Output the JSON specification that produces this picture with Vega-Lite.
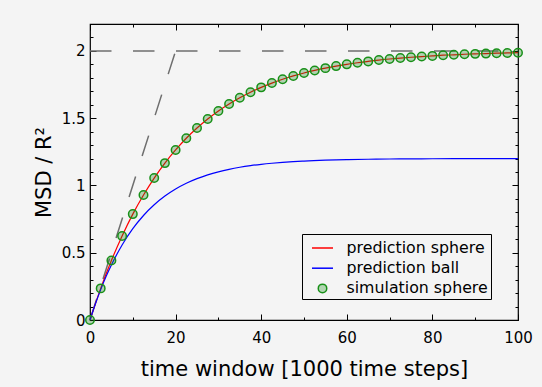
{
  "$schema": "https://vega.github.io/schema/vega-lite/v6.json",
  "width": 428,
  "height": 296,
  "autosize": {"type": "none"},
  "padding": {"left": 90, "top": 24, "right": 24, "bottom": 67},
  "background": "#f4f4f4",
  "config": {
    "font": "DejaVu Sans",
    "view": {"stroke": "black", "strokeWidth": 1.2, "fill": "#f4f4f4"},
    "axis": {
      "grid": false,
      "domain": false,
      "tickColor": "black",
      "tickWidth": 1,
      "labelColor": "black",
      "titleColor": "black",
      "labelFont": "DejaVu Sans",
      "titleFont": "DejaVu Sans",
      "labelFontSize": 15,
      "titleFontSize": 21,
      "titleFontWeight": "normal",
      "labelOverlap": false,
      "labelFlush": false
    }
  },
  "datasets": {
    "guide": [
      {"seg": "slope", "t": 0, "msd": 0},
      {"seg": "slope", "t": 20, "msd": 2},
      {"seg": "plateau", "t": 0, "msd": 2},
      {"seg": "plateau", "t": 100, "msd": 2}
    ],
    "curves": [
      {"series": "prediction sphere", "t": 0, "msd": 0},
      {"series": "prediction sphere", "t": 2.5, "msd": 0.235},
      {"series": "prediction sphere", "t": 5, "msd": 0.442},
      {"series": "prediction sphere", "t": 7.5, "msd": 0.625},
      {"series": "prediction sphere", "t": 10, "msd": 0.787},
      {"series": "prediction sphere", "t": 12.5, "msd": 0.929},
      {"series": "prediction sphere", "t": 15, "msd": 1.055},
      {"series": "prediction sphere", "t": 17.5, "msd": 1.166},
      {"series": "prediction sphere", "t": 20, "msd": 1.264},
      {"series": "prediction sphere", "t": 22.5, "msd": 1.351},
      {"series": "prediction sphere", "t": 25, "msd": 1.427},
      {"series": "prediction sphere", "t": 27.5, "msd": 1.494},
      {"series": "prediction sphere", "t": 30, "msd": 1.554},
      {"series": "prediction sphere", "t": 32.5, "msd": 1.606},
      {"series": "prediction sphere", "t": 35, "msd": 1.652},
      {"series": "prediction sphere", "t": 37.5, "msd": 1.693},
      {"series": "prediction sphere", "t": 40, "msd": 1.729},
      {"series": "prediction sphere", "t": 42.5, "msd": 1.761},
      {"series": "prediction sphere", "t": 45, "msd": 1.789},
      {"series": "prediction sphere", "t": 47.5, "msd": 1.814},
      {"series": "prediction sphere", "t": 50, "msd": 1.836},
      {"series": "prediction sphere", "t": 52.5, "msd": 1.855},
      {"series": "prediction sphere", "t": 55, "msd": 1.872},
      {"series": "prediction sphere", "t": 57.5, "msd": 1.887},
      {"series": "prediction sphere", "t": 60, "msd": 1.900},
      {"series": "prediction sphere", "t": 62.5, "msd": 1.912},
      {"series": "prediction sphere", "t": 65, "msd": 1.922},
      {"series": "prediction sphere", "t": 67.5, "msd": 1.932},
      {"series": "prediction sphere", "t": 70, "msd": 1.940},
      {"series": "prediction sphere", "t": 72.5, "msd": 1.947},
      {"series": "prediction sphere", "t": 75, "msd": 1.953},
      {"series": "prediction sphere", "t": 77.5, "msd": 1.958},
      {"series": "prediction sphere", "t": 80, "msd": 1.963},
      {"series": "prediction sphere", "t": 82.5, "msd": 1.968},
      {"series": "prediction sphere", "t": 85, "msd": 1.971},
      {"series": "prediction sphere", "t": 87.5, "msd": 1.975},
      {"series": "prediction sphere", "t": 90, "msd": 1.978},
      {"series": "prediction sphere", "t": 92.5, "msd": 1.980},
      {"series": "prediction sphere", "t": 95, "msd": 1.983},
      {"series": "prediction sphere", "t": 97.5, "msd": 1.985},
      {"series": "prediction sphere", "t": 100, "msd": 1.987},
      {"series": "prediction ball", "t": 0, "msd": 0},
      {"series": "prediction ball", "t": 1.25, "msd": 0.1186},
      {"series": "prediction ball", "t": 2.5, "msd": 0.2257},
      {"series": "prediction ball", "t": 3.75, "msd": 0.3227},
      {"series": "prediction ball", "t": 5, "msd": 0.4089},
      {"series": "prediction ball", "t": 7.5, "msd": 0.5577},
      {"series": "prediction ball", "t": 10, "msd": 0.6785},
      {"series": "prediction ball", "t": 12.5, "msd": 0.7766},
      {"series": "prediction ball", "t": 15, "msd": 0.8562},
      {"series": "prediction ball", "t": 17.5, "msd": 0.9209},
      {"series": "prediction ball", "t": 20, "msd": 0.9733},
      {"series": "prediction ball", "t": 22.5, "msd": 1.0160},
      {"series": "prediction ball", "t": 25, "msd": 1.0506},
      {"series": "prediction ball", "t": 27.5, "msd": 1.0787},
      {"series": "prediction ball", "t": 30, "msd": 1.1015},
      {"series": "prediction ball", "t": 32.5, "msd": 1.1200},
      {"series": "prediction ball", "t": 35, "msd": 1.1351},
      {"series": "prediction ball", "t": 37.5, "msd": 1.1473},
      {"series": "prediction ball", "t": 40, "msd": 1.1572},
      {"series": "prediction ball", "t": 42.5, "msd": 1.1652},
      {"series": "prediction ball", "t": 45, "msd": 1.1718},
      {"series": "prediction ball", "t": 47.5, "msd": 1.1771},
      {"series": "prediction ball", "t": 50, "msd": 1.1814},
      {"series": "prediction ball", "t": 55, "msd": 1.1877},
      {"series": "prediction ball", "t": 60, "msd": 1.1919},
      {"series": "prediction ball", "t": 65, "msd": 1.1947},
      {"series": "prediction ball", "t": 70, "msd": 1.1965},
      {"series": "prediction ball", "t": 75, "msd": 1.1977},
      {"series": "prediction ball", "t": 80, "msd": 1.1985},
      {"series": "prediction ball", "t": 90, "msd": 1.1993},
      {"series": "prediction ball", "t": 100, "msd": 1.1997}
    ],
    "simulation": [
      {"series": "simulation sphere", "t": 0, "msd": 0},
      {"series": "simulation sphere", "t": 2.5, "msd": 0.235},
      {"series": "simulation sphere", "t": 5, "msd": 0.442},
      {"series": "simulation sphere", "t": 7.5, "msd": 0.625},
      {"series": "simulation sphere", "t": 10, "msd": 0.787},
      {"series": "simulation sphere", "t": 12.5, "msd": 0.929},
      {"series": "simulation sphere", "t": 15, "msd": 1.055},
      {"series": "simulation sphere", "t": 17.5, "msd": 1.166},
      {"series": "simulation sphere", "t": 20, "msd": 1.264},
      {"series": "simulation sphere", "t": 22.5, "msd": 1.351},
      {"series": "simulation sphere", "t": 25, "msd": 1.427},
      {"series": "simulation sphere", "t": 27.5, "msd": 1.494},
      {"series": "simulation sphere", "t": 30, "msd": 1.554},
      {"series": "simulation sphere", "t": 32.5, "msd": 1.606},
      {"series": "simulation sphere", "t": 35, "msd": 1.652},
      {"series": "simulation sphere", "t": 37.5, "msd": 1.693},
      {"series": "simulation sphere", "t": 40, "msd": 1.729},
      {"series": "simulation sphere", "t": 42.5, "msd": 1.761},
      {"series": "simulation sphere", "t": 45, "msd": 1.789},
      {"series": "simulation sphere", "t": 47.5, "msd": 1.814},
      {"series": "simulation sphere", "t": 50, "msd": 1.836},
      {"series": "simulation sphere", "t": 52.5, "msd": 1.855},
      {"series": "simulation sphere", "t": 55, "msd": 1.872},
      {"series": "simulation sphere", "t": 57.5, "msd": 1.887},
      {"series": "simulation sphere", "t": 60, "msd": 1.900},
      {"series": "simulation sphere", "t": 62.5, "msd": 1.912},
      {"series": "simulation sphere", "t": 65, "msd": 1.922},
      {"series": "simulation sphere", "t": 67.5, "msd": 1.932},
      {"series": "simulation sphere", "t": 70, "msd": 1.940},
      {"series": "simulation sphere", "t": 72.5, "msd": 1.947},
      {"series": "simulation sphere", "t": 75, "msd": 1.953},
      {"series": "simulation sphere", "t": 77.5, "msd": 1.958},
      {"series": "simulation sphere", "t": 80, "msd": 1.963},
      {"series": "simulation sphere", "t": 82.5, "msd": 1.968},
      {"series": "simulation sphere", "t": 85, "msd": 1.971},
      {"series": "simulation sphere", "t": 87.5, "msd": 1.975},
      {"series": "simulation sphere", "t": 90, "msd": 1.978},
      {"series": "simulation sphere", "t": 92.5, "msd": 1.980},
      {"series": "simulation sphere", "t": 95, "msd": 1.983},
      {"series": "simulation sphere", "t": 97.5, "msd": 1.985},
      {"series": "simulation sphere", "t": 100, "msd": 1.987}
    ]
  },
  "resolve": {"scale": {"x": "independent", "y": "independent"}},
  "layer": [
    {
      "data": {"name": "guide"},
      "mark": {"type": "line", "stroke": "#6e6e6e", "strokeWidth": 1.5, "strokeDash": [21.5, 21.5]},
      "encoding": {
        "x": {
          "field": "t", "type": "quantitative",
          "scale": {"domain": [0, 100], "nice": false, "zero": false},
          "axis": {
            "orient": "top", "title": null, "labels": false,
            "values": [0, 10, 20, 30, 40, 50, 60, 70, 80, 90, 100],
            "tickSize": {"condition": {"test": "datum.value % 20 === 0", "value": -6}, "value": -3}
          }
        },
        "y": {
          "field": "msd", "type": "quantitative",
          "scale": {"domain": [0, 2.2], "nice": false, "zero": false},
          "axis": {
            "orient": "right", "title": null, "labels": false,
            "values": [0, 0.1, 0.2, 0.3, 0.4, 0.5, 0.6, 0.7, 0.8, 0.9, 1, 1.1, 1.2, 1.3, 1.4, 1.5, 1.6, 1.7, 1.8, 1.9, 2, 2.1, 2.2],
            "tickSize": {"condition": {"test": "abs(datum.value * 2 - round(datum.value * 2)) < 0.001", "value": -6}, "value": -3}
          }
        },
        "detail": {"field": "seg", "type": "nominal"}
      }
    },
    {
      "encoding": {
        "x": {
          "field": "t", "type": "quantitative",
          "scale": {"domain": [0, 100], "nice": false, "zero": false},
          "axis": {
            "orient": "bottom", "title": "time window [1000 time steps]",
            "values": [0, 10, 20, 30, 40, 50, 60, 70, 80, 90, 100],
            "labelExpr": "datum.value % 20 === 0 ? datum.label : ''",
            "tickSize": {"condition": {"test": "datum.value % 20 === 0", "value": -6}, "value": -3},
            "labelPadding": 16,
            "titlePadding": 10
          }
        },
        "y": {
          "field": "msd", "type": "quantitative",
          "scale": {"domain": [0, 2.2], "nice": false, "zero": false},
          "axis": {
            "orient": "left", "title": "MSD / R²",
            "values": [0, 0.1, 0.2, 0.3, 0.4, 0.5, 0.6, 0.7, 0.8, 0.9, 1, 1.1, 1.2, 1.3, 1.4, 1.5, 1.6, 1.7, 1.8, 1.9, 2, 2.1, 2.2],
            "labelExpr": "abs(datum.value * 2 - round(datum.value * 2)) < 0.001 ? toString(round(datum.value * 2) / 2) : ''",
            "tickSize": {"condition": {"test": "abs(datum.value * 2 - round(datum.value * 2)) < 0.001", "value": -6}, "value": -3},
            "labelPadding": 11,
            "titlePadding": 7
          }
        }
      },
      "layer": [
        {
          "data": {"name": "curves"},
          "mark": {"type": "line", "strokeWidth": 1.2, "interpolate": "monotone"},
          "encoding": {
            "color": {
              "field": "series", "type": "nominal",
              "scale": {"domain": ["prediction sphere", "prediction ball", "simulation sphere"], "range": ["#ff0000", "#0000ff", "#189018"]},
              "legend": {
                "title": null,
                "orient": "none",
                "legendX": 212,
                "legendY": 210,
                "padding": 2.5,
                "strokeColor": "black",
                "fillColor": "#f4f4f4",
                "cornerRadius": 0,
                "labelFont": "DejaVu Sans",
                "labelFontSize": 15.8,
                "labelColor": "black",
                "labelExpr": "datum.label + '\u2002'",
                "symbolSize": 144,
                "symbolOffset": 6.5,
                "labelOffset": 12.5,
                "rowPadding": 0.2,
                "symbolStrokeWidth": 1.5,
                "encode": {
                  "symbols": {
                    "update": {
                      "shape": {"signal": "datum.value === 'simulation sphere' ? 'circle' : 'M-1,0L1,0'"},
                      "size": {"signal": "datum.value === 'simulation sphere' ? 72 : 441"},
                      "fill": {"signal": "datum.value === 'simulation sphere' ? 'rgba(24,144,24,0.3)' : 'transparent'"},
                      "fillOpacity": {"value": 1},
                      "strokeWidth": {"value": 1.5}
                    }
                  }
                }
              }
            },
            "order": {"field": "t", "type": "quantitative"}
          }
        },
        {
          "data": {"name": "simulation"},
          "mark": {"type": "point", "shape": "circle", "filled": false, "fill": "#188018", "fillOpacity": 0.3, "size": 72, "strokeWidth": 1.5, "opacity": 1},
          "encoding": {
            "color": {
              "field": "series", "type": "nominal",
              "scale": {"domain": ["prediction sphere", "prediction ball", "simulation sphere"], "range": ["#ff0000", "#0000ff", "#189018"]}
            }
          }
        }
      ]
    }
  ]
}
